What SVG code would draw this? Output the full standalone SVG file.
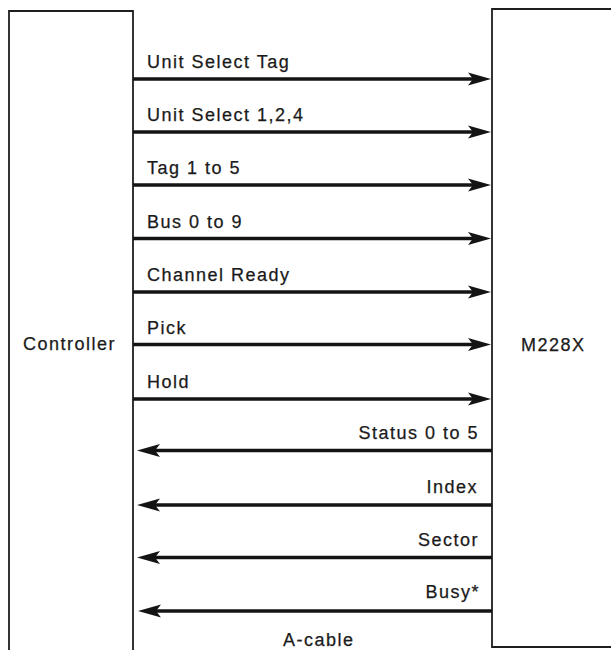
<svg xmlns="http://www.w3.org/2000/svg" width="611" height="650" viewBox="0 0 611 650">
<style>
.box{fill:none;stroke:#1e1e1e;stroke-width:1.8}
.sig{stroke:#141414;stroke-width:3.5;fill:none;marker-end:url(#ah)}
text{font-family:"Liberation Sans",Arial,Helvetica,sans-serif;font-size:18px;fill:#1a1a1a;letter-spacing:1.5px;stroke:#1a1a1a;stroke-width:0.25}
.r{text-anchor:end}
</style>
<defs>
<marker id="ah" markerUnits="userSpaceOnUse" viewBox="-10 -10 30 20" refX="0" refY="0" markerWidth="30" markerHeight="20" orient="auto" overflow="visible">
<path d="M16,0 L-7,-6.5 L-2,0 L-7,6.5 Z" fill="#141414"/>
</marker>
</defs>
<rect width="611" height="650" fill="#fff"/>
<g id="controller">
<path class="box" d="M9,652 V11 H133 V652"/>
<text x="23" y="350">Controller</text>
</g>
<g id="m228x">
<path class="box" d="M613,9 H492 V647 H613"/>
<text x="521" y="351">M228X</text>
</g>
<g id="connectors">
<line class="sig" x1="133" y1="79" x2="475" y2="79"/>
<line class="sig" x1="133" y1="132" x2="475" y2="132"/>
<line class="sig" x1="133" y1="185" x2="475" y2="185"/>
<line class="sig" x1="133" y1="238.5" x2="475" y2="238.5"/>
<line class="sig" x1="133" y1="292" x2="475" y2="292"/>
<line class="sig" x1="133" y1="344.5" x2="475" y2="344.5"/>
<line class="sig" x1="133" y1="399" x2="475" y2="399"/>
<line class="sig" x1="492" y1="450.5" x2="153" y2="450.5"/>
<line class="sig" x1="492" y1="505" x2="153" y2="505"/>
<line class="sig" x1="492" y1="557.5" x2="153" y2="557.5"/>
<line class="sig" x1="492" y1="611" x2="154" y2="611"/>
</g>
<g id="labels">
<text x="147" y="68">Unit Select Tag</text>
<text x="147" y="121">Unit Select 1,2,4</text>
<text x="147" y="174">Tag 1 to 5</text>
<text x="147" y="227.5">Bus 0 to 9</text>
<text x="147" y="281">Channel Ready</text>
<text x="147" y="333.5">Pick</text>
<text x="147" y="388">Hold</text>
<text class="r" x="479" y="439">Status 0 to 5</text>
<text class="r" x="478" y="493">Index</text>
<text class="r" x="479" y="546">Sector</text>
<text class="r" x="480" y="598">Busy*</text>
<text x="283" y="646">A-cable</text>
</g>
</svg>
